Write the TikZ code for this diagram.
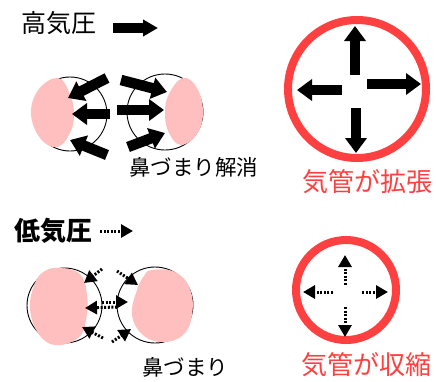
\documentclass[tikz,border=0pt]{standalone}
\usepackage{fontspec}
\newfontfamily\jp{Noto Sans CJK JP}
\usetikzlibrary{arrows.meta}
\definecolor{ring}{HTML}{FF4040}
\definecolor{blob}{HTML}{FFBFBF}
\tikzset{
  bigarrow/.style={line width=10.5pt, -{Triangle[length=15pt,width=21pt]}},
  titlearrow/.style={line width=10pt, -{Triangle[length=15pt,width=16pt]}},
  dotarrow/.style={line width=3pt, dash pattern=on 2pt off 1.6pt, -{Triangle[length=12pt,width=13pt]}},
  cavity/.style={draw=black, line width=0.9pt},
  mucosa/.style={fill=blob, draw=none},
  tube/.style={draw=ring, line width=8pt},
  label/.style={inner sep=0pt, anchor=base west, font=\jp},
}
\begin{document}
\begin{tikzpicture}[x=1pt, y=-1pt]
\useasboundingbox (0,0) rectangle (436,381);

% ---- high pressure ----
\node[label, font=\jp\fontsize{25}{25}\selectfont] (hp) at (21,32.5) {高気圧};
\draw[titlearrow] (113,28) -- (158,28);

% sinus cavities, open
\draw[cavity] (70,114) circle[radius=37];
\draw[cavity] (165,112) circle[radius=38];
\fill[mucosa] plot[smooth cycle, tension=0.7] coordinates
  {(58,78) (69,92) (74,113) (70,133) (57,147) (40,138) (31,113) (39,89)};
\fill[mucosa] plot[smooth cycle, tension=0.7] coordinates
  {(183,78) (169,94) (165,113) (169,133) (181,145) (197,134) (203,112) (197,88)};

\draw[bigarrow] (107,78) -- (68,98);
\draw[bigarrow] (110,114) -- (72,114);
\draw[bigarrow] (107,155) -- (70,140);
\draw[bigarrow] (121,80) -- (167,92);
\draw[bigarrow] (117,110) -- (164,110);
\draw[bigarrow] (128,147) -- (165,133);

\node[label, font=\jp\fontsize{21.5}{21.5}\selectfont] (relief) at (129,175) {鼻づまり解消};

% airway, dilated
\draw[tube] (357,89) circle[radius=69];
\draw[bigarrow] (355,75) -- (355,26);
\draw[bigarrow] (356,108) -- (356,153);
\draw[bigarrow] (342,90) -- (297,90);
\draw[bigarrow] (367,84) -- (421,84);
\node[label, text=ring, font=\jp\fontsize{26}{26}\selectfont] (dil) at (302,191) {気管が拡張};

% ---- low pressure ----
\node[label, font=\jp\bfseries\fontsize{26}{26}\selectfont] (lp) at (14,240.5) {低気圧};
\draw[dotarrow] (100,231) -- (133,231);

% sinus cavities, blocked
\draw[cavity] (64.5,305.5) circle[radius=37.5];
\draw[cavity] (155,305) circle[radius=38];
\fill[mucosa] plot[smooth cycle, tension=0.7] coordinates
  {(60,268) (80,274) (87,295) (86,320) (78,338) (55,345) (38,333) (30,308) (35,283) (45,271)};
\fill[mucosa] plot[smooth cycle, tension=0.7] coordinates
  {(152,270) (175,272) (190,289) (192,315) (183,335) (163,342) (143,335) (132,315) (137,290) (144,276)};

\draw[dotarrow] (102,269) -- (84,283);
\draw[dotarrow] (117,307) -- (85,308);
\draw[dotarrow] (103,338) -- (82,327);
\draw[dotarrow] (117,271) -- (138,285);
\draw[dotarrow] (102,302) -- (128,302);
\draw[dotarrow] (112,342) -- (131,329);

\node[label, font=\jp\fontsize{21.5}{21.5}\selectfont] (block) at (142,375) {鼻づまり};

% airway, constricted
\draw[tube] (346,290) circle[radius=50];
\draw[dotarrow] (345,285) -- (345,255);
\draw[dotarrow] (345,307) -- (345,337);
\draw[dotarrow] (333,292) -- (303,292);
\draw[dotarrow] (362,292) -- (388,292);
\node[label, text=ring, font=\jp\fontsize{26}{26}\selectfont] (con) at (301,374) {気管が収縮};
\end{tikzpicture}
\end{document}
